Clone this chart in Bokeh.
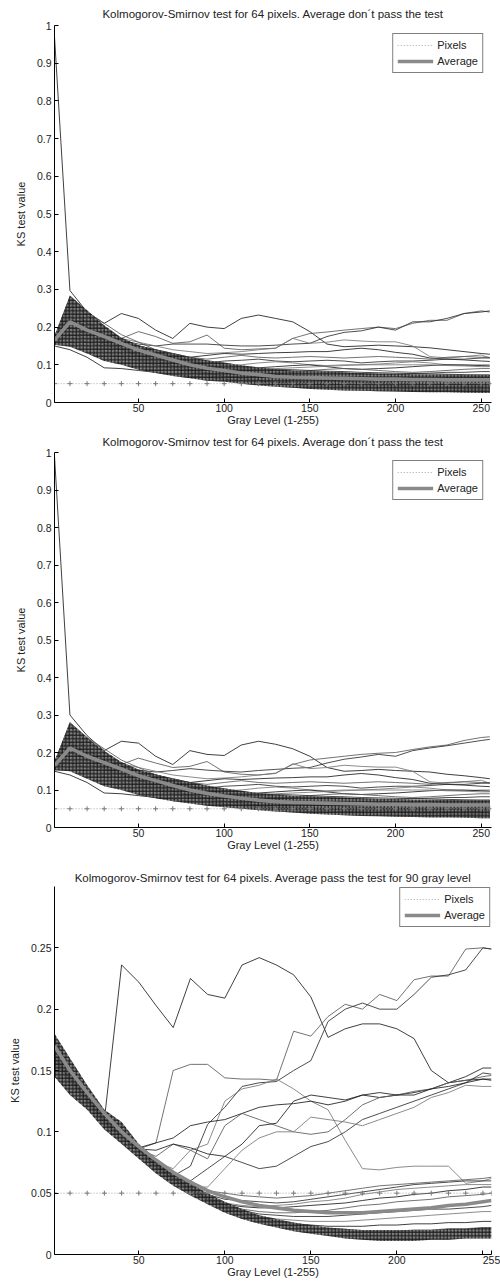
from bokeh.plotting import figure
from bokeh.models import Range1d, Legend, LegendItem, FixedTicker
from bokeh.layouts import column
from bokeh.embed import file_html
from bokeh.resources import INLINE

# ---------------- data ----------------
GRAY = [1, 10, 20, 30, 40, 50, 60, 70, 80, 90, 100, 110, 120, 130, 140, 150, 160, 170, 180, 190,
        200, 210, 220, 230, 240, 250, 255]
THRESHOLD = 0.05

TITLE_1 = "Kolmogorov-Smirnov test for 64 pixels. Average don\u00b4t pass the test"
TITLE_2 = "Kolmogorov-Smirnov test for 64 pixels. Average don\u00b4t pass the test"
TITLE_3 = "Kolmogorov-Smirnov test for 64 pixels. Average pass the test for 90 gray level"
X_LABEL = "Gray Level (1-255)"
Y_LABEL = "KS test value"
LEGEND_LABELS = ["Pixels", "Average"]

Y1_TICKS = [0, 0.1, 0.2, 0.3, 0.4, 0.5, 0.6, 0.7, 0.8, 0.9, 1]
Y1_LABELS = ["0", "0.1", "0.2", "0.3", "0.4", "0.5", "0.6", "0.7", "0.8", "0.9", "1"]
X1_TICKS = [50, 100, 150, 200, 250]
X1_LABELS = ["50", "100", "150", "200", "250"]
Y3_TICKS = [0, 0.05, 0.1, 0.15, 0.2, 0.25]
Y3_LABELS = ["0", "0.05", "0.1", "0.15", "0.2", "0.25"]
X3_TICKS = [50, 100, 150, 200, 250, 255]
X3_LABELS = ["50", "100", "150", "200", "", "255"]

# panel 1 pixel curves
p1_spike = [.97, .297, .24, .21, .236, .223, .192, .17, .21, .2, .196, .223, .232, .223, .214, .188, .155, .148, .15, .152, .15, .148, .145, .14, .135, .13, .128]
p1_riseA = [.16, .24, .21, .19, .17, .188, .175, .157, .161, .179, .144, .14, .142, .144, .17, .183, .187, .192, .196, .2, .196, .21, .218, .218, .236, .243, .24]
p1_riseB = [.17, .23, .2, .18, .165, .155, .15, .155, .155, .155, .152, .15, .15, .152, .155, .157, .175, .186, .19, .2, .192, .214, .214, .223, .236, .24, .243]
p1_hump = [.165, .26, .215, .19, .17, .16, .15, .14, .135, .13, .132, .135, .14, .144, .17, .157, .16, .166, .163, .161, .161, .15, .122, .118, .122, .126, .118]
p1_c5 = [.16, .2, .18, .165, .15, .14, .13, .125, .12, .125, .13, .128, .13, .132, .133, .135, .135, .14, .144, .14, .133, .128, .118, .115, .113, .11, .109]
p1_c6 = [.17, .22, .2, .18, .165, .15, .14, .13, .12, .115, .12, .125, .12, .118, .12, .122, .12, .118, .12, .122, .12, .118, .115, .12, .122, .12, .12]
p1_c7 = [.16, .21, .19, .17, .155, .14, .13, .12, .11, .105, .11, .112, .115, .11, .108, .11, .112, .11, .105, .108, .11, .11, .112, .115, .115, .118, .118]
p1_c8 = [.155, .19, .175, .16, .145, .13, .12, .11, .105, .1, .098, .1, .105, .108, .105, .1, .098, .1, .1, .102, .105, .108, .105, .1, .098, .1, .1]
p1_c9 = [.165, .27, .23, .2, .17, .15, .135, .12, .11, .1, .092, .09, .092, .095, .098, .1, .095, .09, .088, .09, .092, .095, .098, .1, .1, .098, .097]
p1_c10 = [.17, .28, .24, .21, .18, .16, .14, .125, .112, .1, .09, .085, .082, .08, .082, .085, .088, .09, .088, .085, .082, .08, .082, .085, .088, .09, .09]
p1_c11 = [.16, .18, .17, .155, .14, .125, .115, .105, .095, .088, .082, .078, .075, .077, .08, .082, .08, .078, .075, .074, .075, .077, .078, .08, .08, .082, .082]
p1_c12 = [.155, .16, .15, .135, .12, .11, .1, .09, .082, .075, .07, .068, .066, .065, .064, .065, .066, .067, .068, .068, .069, .07, .071, .072, .072, .073, .073]
p1_c13 = [.15, .14, .12, .092, .09, .085, .08, .075, .07, .066, .062, .058, .056, .054, .052, .05, .048, .047, .046, .045, .045, .044, .044, .043, .043, .042, .042]
p1_c14 = [.16, .2, .18, .16, .14, .12, .105, .095, .085, .078, .07, .065, .06, .057, .055, .053, .05, .048, .046, .045, .043, .042, .04, .039, .038, .037, .037]
p1_c15 = [.165, .22, .19, .165, .145, .125, .11, .098, .087, .078, .07, .063, .058, .053, .05, .047, .045, .043, .041, .04, .039, .038, .037, .036, .035, .034, .034]
p1_c16 = [.158, .175, .16, .145, .13, .115, .1, .09, .08, .072, .065, .058, .053, .049, .046, .043, .041, .039, .037, .036, .034, .033, .032, .031, .03, .029, .029]
p1_c17 = [.16, .25, .21, .18, .16, .14, .12, .105, .093, .085, .078, .072, .068, .064, .062, .06, .058, .056, .054, .052, .051, .05, .049, .048, .047, .046, .046]
p1_c18 = [.162, .23, .2, .175, .155, .138, .125, .112, .1, .09, .085, .08, .077, .075, .073, .07, .068, .066, .064, .062, .061, .06, .059, .058, .057, .056, .056]
p1_c19 = [.168, .2, .185, .17, .16, .15, .14, .13, .12, .11, .1, .095, .09, .088, .087, .085, .083, .082, .08, .079, .078, .077, .076, .075, .074, .073, .073]
p1_c20 = [.163, .17, .16, .15, .14, .13, .12, .11, .1, .095, .09, .088, .087, .09, .092, .094, .096, .098, .1, .1, .1, .1, .1, .098, .097, .095, .095]
p1_band_lo = [.153, .148, .13, .11, .1, .087, .078, .07, .064, .058, .055, .05, .045, .042, .039, .036, .034, .032, .031, .03, .029, .028, .027, .027, .026, .025, .025]
p1_band_hi = [.178, .284, .245, .205, .172, .152, .14, .13, .12, .112, .106, .099, .093, .088, .085, .083, .082, .08, .078, .077, .076, .075, .074, .074, .073, .073, .073]
p1_avg = [.165, .214, .192, .175, .157, .139, .126, .113, .1, .091, .085, .078, .074, .069, .067, .066, .065, .064, .063, .062, .062, .061, .061, .06, .06, .06, .06]

# panel 2 pixel curves (curves that differ from panel 1)
p2_spike = [.99, .30, .245, .205, .23, .225, .19, .168, .205, .195, .192, .22, .23, .222, .21, .19, .16, .15, .152, .155, .152, .15, .148, .142, .138, .133, .13]
p2_riseA = [.162, .245, .205, .185, .168, .185, .172, .16, .163, .176, .148, .142, .14, .145, .168, .18, .185, .19, .195, .198, .2, .208, .215, .22, .232, .24, .242]
p2_riseB = [.168, .225, .198, .178, .163, .153, .148, .152, .157, .153, .15, .148, .152, .155, .158, .16, .172, .182, .188, .195, .19, .205, .212, .218, .225, .232, .235]
p2_band_lo = [.153, .15, .13, .11, .1, .087, .078, .07, .064, .058, .054, .05, .046, .043, .04, .037, .035, .033, .031, .03, .029, .028, .027, .027, .026, .025, .025]
p2_band_hi = [.178, .28, .24, .205, .175, .155, .142, .13, .12, .112, .105, .098, .092, .088, .085, .083, .081, .08, .078, .077, .076, .075, .074, .074, .073, .073, .073]
p2_avg = [.165, .212, .19, .173, .156, .138, .125, .112, .1, .091, .084, .078, .073, .069, .067, .066, .065, .064, .063, .062, .062, .061, .061, .06, .06, .06, .06]

# panel 3 pixel curves
p3_spike = [.165, .148, .128, .110, .236, .222, .203, .185, .225, .212, .209, .236, .242, .236, .228, .210, .177, .184, .188, .188, .184, .176, .150, .140, .142, .143, .142]
p3_q1 = [.160, .145, .127, .108, .098, .086, .091, .150, .155, .155, .144, .143, .143, .142, .182, .178, .194, .204, .200, .212, .207, .224, .227, .227, .249, .250, .249]
p3_q2 = [.158, .143, .126, .107, .097, .085, .074, .064, .072, .106, .120, .137, .140, .141, .150, .158, .190, .200, .205, .200, .200, .212, .226, .228, .232, .250, .249]
p3_t = [.163, .146, .128, .109, .099, .086, .075, .070, .085, .090, .125, .135, .138, .143, .135, .125, .118, .093, .070, .069, .071, .072, .072, .072, .058, .060, .062]
p3_v1 = [.168, .150, .130, .111, .102, .087, .091, .095, .105, .108, .110, .115, .120, .122, .123, .125, .122, .125, .130, .128, .130, .132, .135, .140, .145, .152, .152]
p3_v2 = [.161, .144, .127, .108, .099, .086, .080, .090, .085, .078, .105, .115, .110, .105, .100, .098, .100, .110, .122, .128, .130, .133, .135, .140, .142, .145, .146]
p3_v3 = [.157, .142, .125, .107, .097, .084, .072, .062, .060, .070, .080, .075, .070, .072, .080, .088, .092, .100, .110, .115, .120, .125, .130, .135, .140, .148, .147]
p3_v4 = [.159, .143, .126, .108, .098, .085, .073, .063, .055, .055, .070, .085, .095, .100, .100, .112, .110, .108, .105, .110, .115, .120, .128, .132, .138, .137, .137]
p3_v5 = [.166, .149, .129, .110, .100, .086, .085, .090, .087, .082, .080, .090, .105, .107, .125, .130, .128, .126, .130, .132, .130, .130, .135, .137, .140, .143, .143]
p3_w1 = [.168, .148, .130, .112, .102, .088, .077, .067, .058, .052, .050, .048, .047, .046, .047, .048, .050, .052, .054, .056, .057, .058, .059, .060, .061, .062, .063]
p3_w2 = [.162, .144, .127, .110, .099, .086, .075, .064, .056, .049, .045, .044, .043, .042, .043, .045, .047, .049, .051, .053, .055, .057, .058, .059, .060, .060, .060]
p3_w3 = [.158, .141, .125, .108, .098, .085, .073, .063, .055, .047, .042, .040, .039, .040, .041, .043, .044, .046, .049, .051, .053, .054, .055, .056, .057, .057, .057]
p3_w4 = [.160, .143, .126, .109, .097, .085, .072, .062, .054, .046, .041, .039, .038, .038, .039, .040, .041, .042, .044, .046, .047, .049, .050, .052, .053, .055, .055]
p3_w5 = [.155, .140, .124, .107, .096, .084, .071, .061, .052, .045, .040, .037, .035, .034, .034, .035, .036, .038, .040, .041, .043, .044, .045, .047, .048, .049, .050]
p3_w6 = [.170, .150, .131, .112, .100, .087, .074, .063, .054, .046, .040, .036, .033, .032, .031, .031, .031, .032, .033, .034, .035, .036, .037, .037, .038, .039, .040]
p3_w7 = [.150, .138, .122, .106, .095, .083, .070, .060, .051, .044, .038, .034, .031, .029, .028, .027, .027, .027, .028, .029, .030, .031, .032, .033, .034, .035, .035]
p3_w8 = [.175, .152, .132, .113, .101, .086, .073, .062, .053, .045, .039, .034, .030, .027, .025, .024, .023, .023, .023, .024, .024, .025, .025, .026, .026, .027, .027]
p3_w9 = [.164, .146, .128, .110, .099, .085, .072, .061, .052, .044, .037, .032, .028, .025, .023, .021, .020, .019, .019, .019, .019, .020, .020, .021, .021, .022, .022]
p3_band_lo = [.145, .130, .118, .102, .090, .078, .066, .056, .048, .041, .034, .029, .025, .022, .019, .017, .015, .013, .012, .011, .011, .011, .012, .012, .013, .013, .013]
p3_band_hi = [.180, .160, .138, .118, .108, .090, .078, .067, .058, .050, .043, .037, .032, .029, .026, .024, .022, .021, .020, .020, .020, .020, .020, .021, .021, .022, .022]
p3_avg = [.170, .150, .132, .115, .100, .088, .077, .067, .059, .052, .047, .043, .040, .038, .036, .035, .034, .034, .034, .035, .036, .037, .038, .040, .041, .043, .044]

P1_CURVES = [p1_spike, p1_riseA, p1_riseB, p1_hump, p1_c5, p1_c6, p1_c7, p1_c8, p1_c9, p1_c10,
             p1_c11, p1_c12, p1_c13, p1_c14, p1_c15, p1_c16, p1_c17, p1_c18, p1_c19, p1_c20]
P2_CURVES = [p2_spike, p2_riseA, p2_riseB, p1_hump, p1_c5, p1_c6, p1_c7, p1_c8, p1_c9, p1_c10,
             p1_c11, p1_c12, p1_c13, p1_c14, p1_c15, p1_c16, p1_c17, p1_c18, p1_c19, p1_c20]
P3_CURVES = [p3_spike, p3_q1, p3_q2, p3_t, p3_v1, p3_v2, p3_v3, p3_v4, p3_v5,
             p3_w1, p3_w2, p3_w3, p3_w4, p3_w5, p3_w6, p3_w7, p3_w8, p3_w9]

FONT = "Liberation Sans"
TXT = "#222222"
LINE_COLORS = ["#1e1e1e", "#5a5a5a", "#2e2e2e", "#777777"]


def panel(title, curves, band_lo, band_hi, avg, height, b_top, b_bottom, b_left, b_right,
          x_end, y_end, xticks, xlabels, yticks, ylabels, legend_margin, title_standoff):
    p = figure(width=500, height=height, output_backend="svg", toolbar_location=None,
               x_range=Range1d(1, x_end), y_range=Range1d(0, y_end),
               min_border_top=b_top, min_border_bottom=b_bottom,
               min_border_left=b_left, min_border_right=b_right)
    p.title.text = title
    p.title.align = "center"
    p.title.text_font = FONT
    p.title.text_font_size = "11.5px"
    p.title.text_font_style = "normal"
    p.title.text_color = TXT
    p.title.standoff = title_standoff
    p.outline_line_color = None
    p.grid.visible = False
    p.background_fill_color = "white"
    p.border_fill_color = "white"

    for ax, ticks, labels, lab in ((p.xaxis[0], xticks, xlabels, X_LABEL),
                                   (p.yaxis[0], yticks, ylabels, Y_LABEL)):
        ax.ticker = FixedTicker(ticks=ticks)
        ax.major_label_overrides = dict(zip(ticks, labels))
        ax.minor_tick_line_color = None
        ax.major_tick_in = 4
        ax.major_tick_out = 0
        ax.axis_line_color = "black"
        ax.major_tick_line_color = "black"
        ax.major_label_text_font = FONT
        ax.major_label_text_font_size = "10.5px"
        ax.major_label_text_color = TXT
        ax.major_label_standoff = 3
        ax.axis_label = lab
        ax.axis_label_text_font = FONT
        ax.axis_label_text_font_size = "11px"
        ax.axis_label_text_font_style = "normal"
        ax.axis_label_text_color = TXT
    p.xaxis[0].major_label_standoff = 1
    p.xaxis[0].axis_label_standoff = -1
    p.yaxis[0].axis_label_standoff = 7

    # pixel curves
    for i, c in enumerate(curves):
        p.line(GRAY, c, line_color=LINE_COLORS[i % len(LINE_COLORS)], line_width=0.85)

    # dense marked band of pixel curves
    p.varea(x=GRAY, y1=band_lo, y2=band_hi, fill_color="#6e6e6e", fill_alpha=0.85,
            hatch_pattern="+", hatch_color="#0a0a0a", hatch_alpha=0.9,
            hatch_scale=3.5, hatch_weight=1)

    # threshold
    r_thr = p.line(GRAY, [THRESHOLD] * len(GRAY), line_color="#a8a8a8", line_width=1,
                   line_dash="1 2")
    p.scatter(GRAY, [THRESHOLD] * len(GRAY), marker="cross", size=5, line_color="#7a7a7a",
              line_width=1)

    # average
    r_avg = p.line(GRAY, avg, line_color="#8a8a8a", line_width=3.6)

    # legend
    leg = Legend(items=[LegendItem(label=LEGEND_LABELS[0], renderers=[r_thr]),
                        LegendItem(label=LEGEND_LABELS[1], renderers=[r_avg])],
                 location="top_right")
    leg.margin = legend_margin
    leg.padding = 4
    leg.spacing = 2
    leg.glyph_width = 36
    leg.glyph_height = 14
    leg.label_height = 14
    leg.label_standoff = 4
    leg.label_text_font = FONT
    leg.label_text_font_size = "11px"
    leg.label_text_color = TXT
    leg.border_line_color = "black"
    leg.border_line_width = 1
    leg.background_fill_color = "white"
    leg.background_fill_alpha = 1
    p.add_layout(leg)
    return p


f1 = panel(TITLE_1, P1_CURVES, p1_band_lo, p1_band_hi, p1_avg, 428, 25, 25, 51, 2,
           256, 1, X1_TICKS, X1_LABELS, Y1_TICKS, Y1_LABELS, 8, 11)
f2 = panel(TITLE_2, P2_CURVES, p2_band_lo, p2_band_hi, p2_avg, 427, 21, 28, 51, 2,
           256, 1, X1_TICKS, X1_LABELS, Y1_TICKS, Y1_LABELS, 8, 10)
f3 = panel(TITLE_3, P3_CURVES, p3_band_lo, p3_band_hi, p3_avg, 429, 31, 30, 54, 9,
           255, 0.3, X3_TICKS, X3_LABELS, Y3_TICKS, Y3_LABELS, 1, 6)

layout = column(f1, f2, f3, spacing=0)
open("out.html", "w").write(file_html(layout, INLINE))
